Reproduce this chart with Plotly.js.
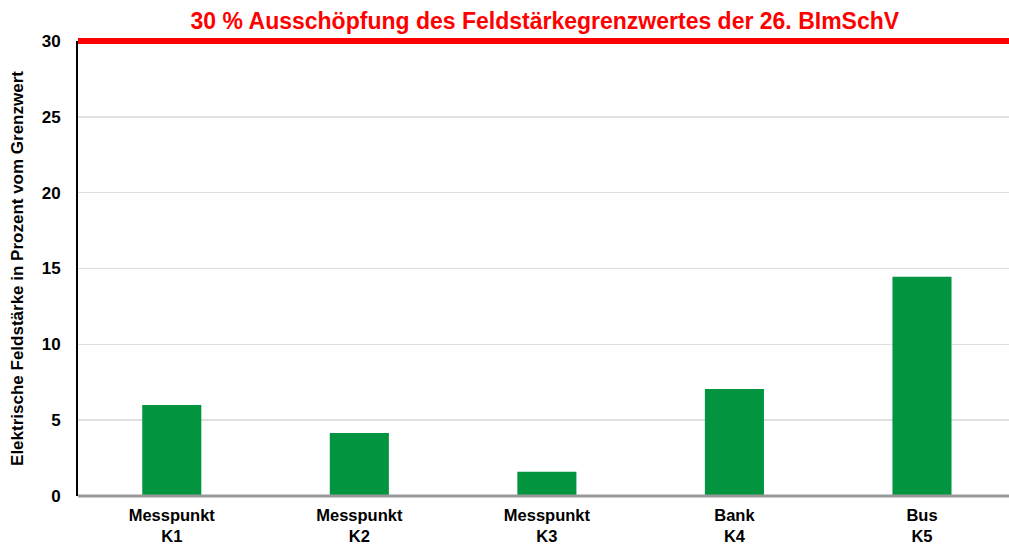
<!DOCTYPE html>
<html>
<head>
<meta charset="utf-8">
<script src="https://cdn.plot.ly/plotly-3.0.1.min.js"></script>
<style>html,body{margin:0;padding:0;background:#fff;}#chart{width:1009px;height:545px;}</style>
</head>
<body>
<div id="chart"></div>
<script>
const categories = ["Messpunkt<br>K1", "Messpunkt<br>K2", "Messpunkt<br>K3", "Bank<br>K4", "Bus<br>K5"];
const values = [6.0, 4.15, 1.6, 7.05, 14.45];
const limitValue = 30;
const yMax = 30;
const titleText = "30 % Ausschöpfung des Feldstärkegrenzwertes der 26. BImSchV";
const yTitle = "Elektrische Feldstärke in Prozent vom Grenzwert";
const yTicks = [0, 5, 10, 15, 20, 25, 30];

const font = "'Liberation Sans', Arial, sans-serif";

const trace = {
  type: "bar",
  x: categories,
  y: values,
  width: 0.315,
  marker: {color: "#03943F", line: {width: 0}},
  hoverinfo: "x+y"
};

const layout = {
  width: 1009,
  height: 545,
  margin: {l: 78, r: 0, t: 41, b: 49},
  paper_bgcolor: "#ffffff",
  plot_bgcolor: "#ffffff",
  showlegend: false,
  title: {
    text: "<b>" + titleText + "</b>",
    font: {family: font, size: 23, color: "#FF0000"},
    x: 0.54, xanchor: "center",
    y: 0.962, yanchor: "middle"
  },
  xaxis: {
    type: "category",
    range: [-0.5, 4.464],
    showgrid: false,
    zeroline: false,
    showline: false,
    ticks: "",
    ticklabelstandoff: 7,
    tickfont: {family: font, size: 16.5, color: "#000"},
    tickprefix: "<b>", ticksuffix: "</b>",
    automargin: false
  },
  yaxis: {
    range: [0, yMax],
    tickvals: yTicks,
    ticktext: yTicks.map(v => "<b>" + v + "</b>"),
    showgrid: true,
    gridcolor: "#e0e0e0",
    gridwidth: 1.5,
    zeroline: false,
    showline: true,
    linecolor: "#000",
    linewidth: 2,
    ticks: "",
    ticklabelstandoff: 12,
    tickfont: {family: font, size: 17, color: "#000"},
    title: {text: "<b>" + yTitle + "</b>", font: {family: font, size: 17, color: "#000"}, standoff: 14},
    automargin: false
  },
  shapes: [
    {type: "line", xref: "paper", x0: 0, x1: 1, yref: "paper", y0: 0, y1: 0,
     line: {color: "#999999", width: 3}},
    {type: "line", xref: "paper", x0: 0, x1: 1, yref: "paper", y0: limitValue / yMax, y1: limitValue / yMax,
     line: {color: "#FF0000", width: 6}}
  ]
};

Plotly.newPlot("chart", [trace], layout, {displayModeBar: false, staticPlot: true});
</script>
</body>
</html>
